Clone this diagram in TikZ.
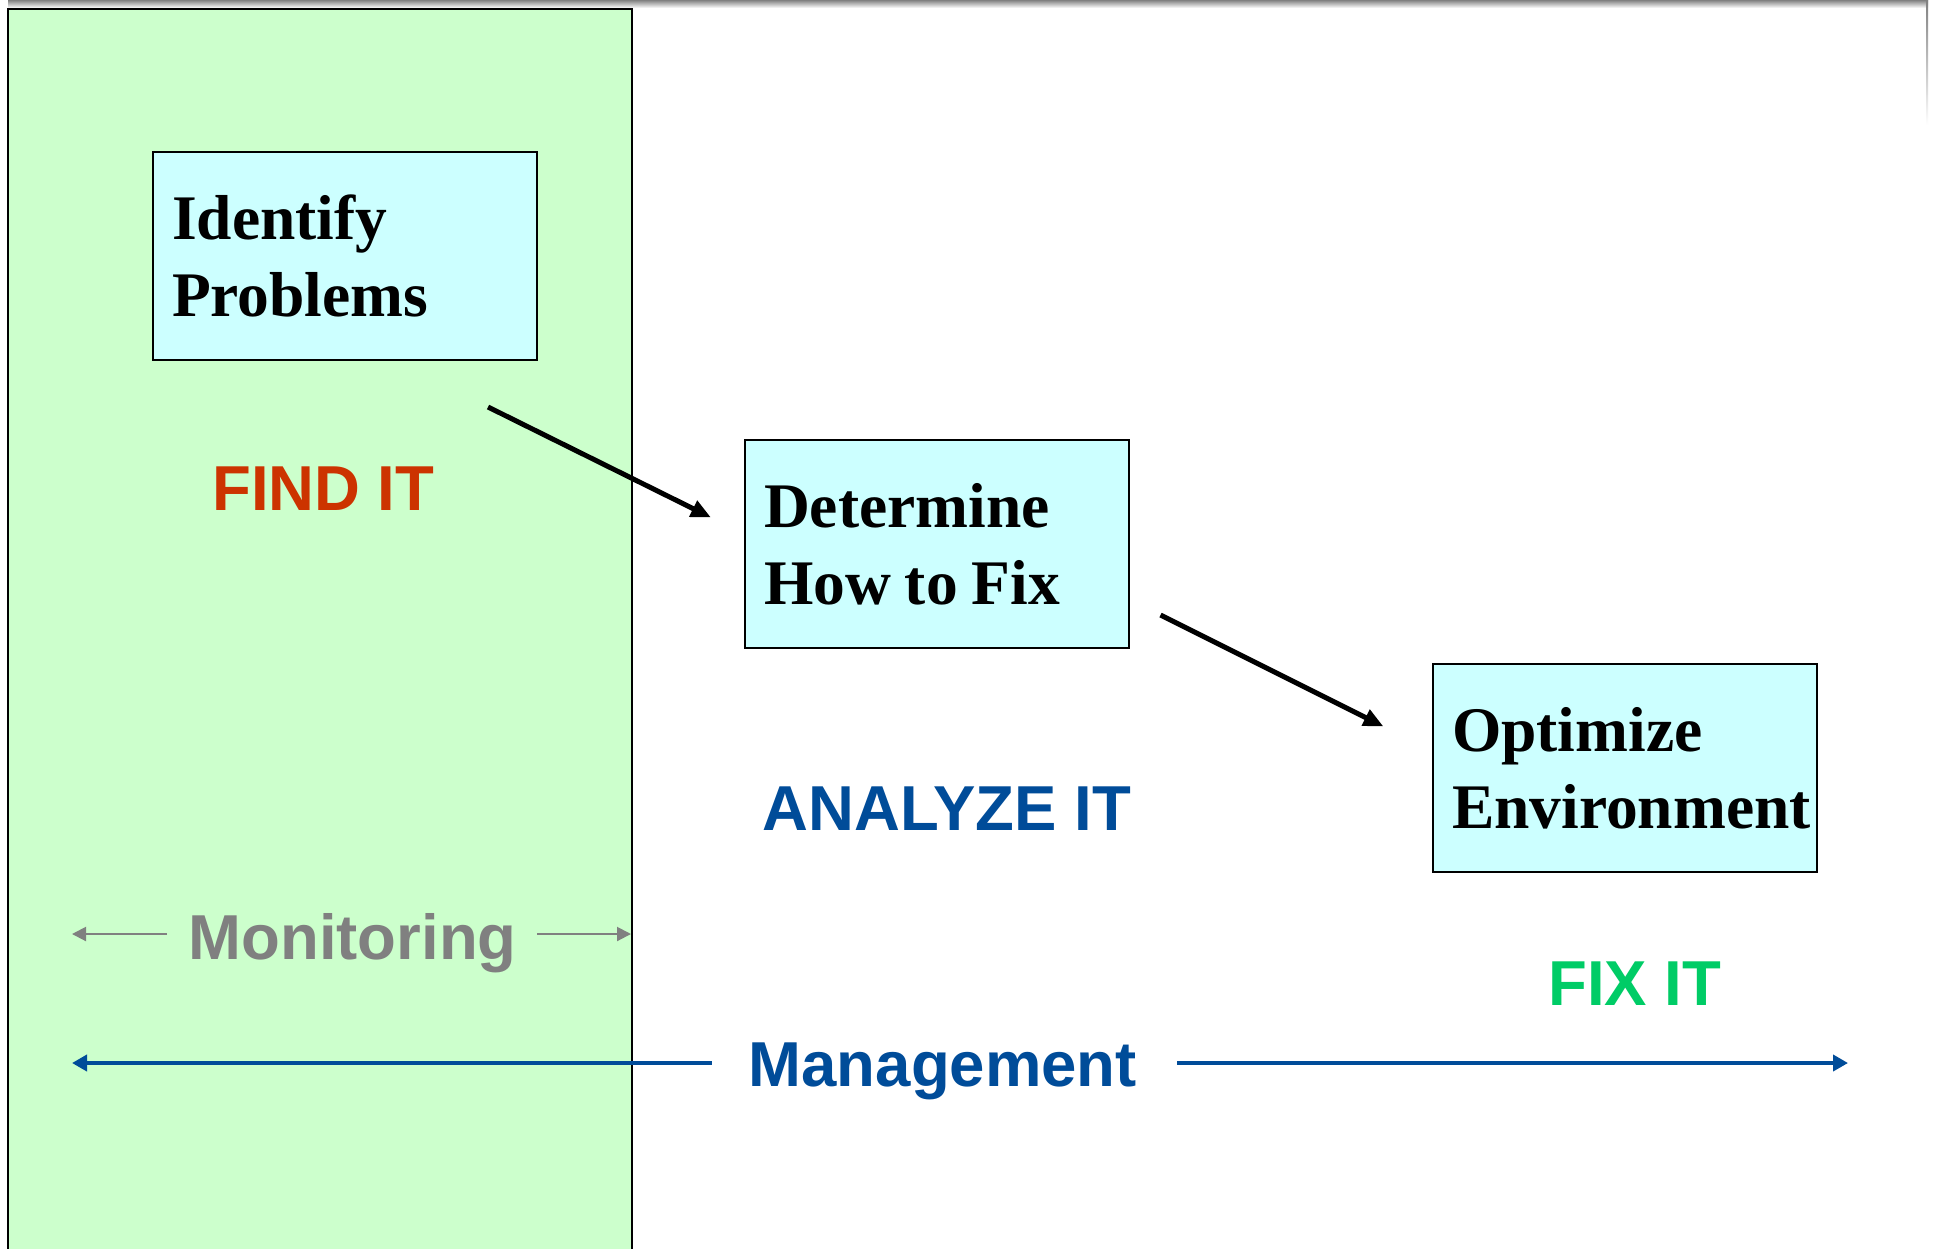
\documentclass[tikz,border=0pt]{standalone}
\usepackage{fontspec}
\setmainfont{Liberation Serif}
\setsansfont{Liberation Sans}
\usetikzlibrary{arrows.meta}

\definecolor{bandgreen}{HTML}{CCFFCC}
\definecolor{boxcyan}{HTML}{CCFFFF}
\definecolor{findred}{HTML}{CC3300}
\definecolor{navyblue}{HTML}{004C99}
\definecolor{fixgreen}{HTML}{00CC66}
\definecolor{monigray}{HTML}{808080}

% slightly tighter word spacing inside the step boxes
\newcommand{\tightwords}{\spaceskip=14pt plus 4pt minus 2pt\relax}

\begin{document}
\begin{tikzpicture}[x=1pt,y=-1pt,
  stepbox/.style={draw=black, line width=2pt, fill=boxcyan,
    minimum width=384pt, minimum height=208pt, text width=346pt,
    align=left, inner xsep=19pt, inner ysep=0pt, anchor=north west,
    font=\fontsize{63.5}{77}\selectfont\bfseries,
    execute at begin node=\tightwords},
  phase/.style={font=\fontsize{63.5}{77}\selectfont\sffamily\bfseries,
    anchor=base west, inner sep=0pt},
  flow/.style={line width=5pt, -{Triangle[length=20pt,width=17pt]}},
  span/.style={line width=4pt, navyblue, -{Triangle[length=15pt,width=16pt]}},
  monitor/.style={line width=2pt, monigray, -{Triangle[length=14pt,width=14pt]}}
]
% canvas
\path[use as bounding box] (0,0) rectangle (1937,1248);
\clip (0,0) rectangle (1937,1248);
\fill[white] (0,0) rectangle (1937,1248);

% window shadow along the top and right edges
\shade[top color=monigray, bottom color=white] (8,0) rectangle (1928,8);
\shade[top color=monigray, bottom color=white] (1926,0) rectangle (1928,125);

% monitoring zone
\fill[bandgreen] (8,9) rectangle (632,1260);
\draw[line width=2pt] (8,1260) -- (8,9) -- (632,9) -- (632,1260);

% the three steps
\node[stepbox] (idp) at (152,151) {Identify\\Problems};
\node[stepbox] (dhf) at (744,439) {Determine\\How to Fix};
\node[stepbox] (ope) at (1432,663) {Optimize\\Environment};

% phase labels
\node[phase, text=findred]  (find)    at (212,510.7)  {FIND IT};
\node[phase, text=navyblue] (analyze) at (762.5,830.7) {ANALYZE IT};
\node[phase, text=fixgreen] (fix)     at (1548,1005.7) {FIX IT};
\node[phase, text=monigray] (moni)    at (188.5,959)  {Monitoring};
\node[phase, text=navyblue] (mgmt)    at (748.5,1086) {Management};

% flow between the steps
\coordinate (f1s) at (488,407);
\coordinate (f1e) at (711,517.5);
\coordinate (f2s) at (1160.5,615);
\coordinate (f2e) at (1383.5,726.5);
\draw[flow] (f1s) -- (f1e);
\draw[flow] (f2s) -- (f2e);

% extent of monitoring
\coordinate (mls) at (167,934);
\coordinate (mle) at (72,934);
\coordinate (mrs) at (537,934);
\coordinate (mre) at (631,934);
\draw[monitor] (mls) -- (mle);
\draw[monitor] (mrs) -- (mre);

% extent of management
\coordinate (gls) at (711.5,1063);
\coordinate (gle) at (72,1063);
\coordinate (grs) at (1177,1063);
\coordinate (gre) at (1848,1063);
\draw[span] (gls) -- (gle);
\draw[span] (grs) -- (gre);
\end{tikzpicture}
\end{document}
